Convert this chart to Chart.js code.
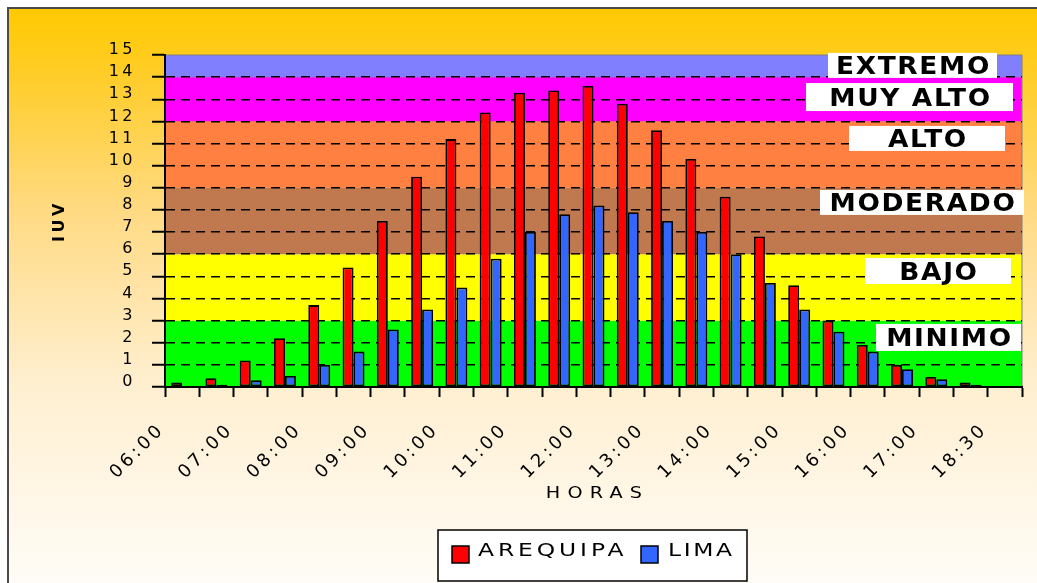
<!DOCTYPE html>
<html>
<head>
<meta charset="utf-8">
<script src="https://cdn.jsdelivr.net/npm/chart.js@4.4.0/dist/chart.umd.min.js"></script>
<style>
  html, body { margin: 0; padding: 0; background: #fff; }
  canvas { display: block; }
</style>
</head>
<body>
<canvas id="graficoIUV" width="1037" height="583"></canvas>
<script>
// datos (IUV cada media hora)
const horas = ['06:00','06:30','07:00','07:30','08:00','08:30','09:00','09:30','10:00','10:30',
  '11:00','11:30','12:00','12:30','13:00','13:30','14:00','14:30','15:00','15:30',
  '16:00','16:30','17:00','17:30','18:30'];
const arequipa = [0.2,0.4,1.2,2.2,3.7,5.4,7.5,9.5,11.2,12.4,13.3,13.4,13.6,12.8,11.6,10.3,8.6,6.8,4.6,3.0,1.9,1.0,0.45,0.2,0];
const lima = [0,0.1,0.3,0.5,1.0,1.6,2.6,3.5,4.5,5.8,7.0,7.8,8.2,7.9,7.5,7.0,6.0,4.7,3.5,2.5,1.6,0.8,0.35,0.1,0];

// niveles de riesgo (franjas de fondo)
const nivelesLimites = [0, 3, 6, 9, 12, 14, 15];
const nivelesColores = ['#00FF00', '#FFFF00', '#C0784F', '#FF8040', '#FF00FF', '#8080FF'];
const nivelesNombres = ['MINIMO', 'BAJO', 'MODERADO', 'ALTO', 'MUY ALTO', 'EXTREMO'];
const nivelesPosY = [2.24, 5.24, 8.34, 11.23, 13.1, 14.53];

// cajas de texto de los niveles (px respecto al borde derecho del area)
const cajaDerecha = [1, 11, -2, 17, 9, 25];
const cajaAncho = [145, 146, 204, 156, 207, 169];
const cajaAlto = [27, 26, 25, 25, 28, 25];

// texto ensanchado horizontalmente, como en la imagen original
function textoAncho(ctx, txt, x, y, sx, esp) {
  ctx.save();
  ctx.letterSpacing = esp + 'px';
  ctx.translate(x, y);
  ctx.scale(sx, 1);
  ctx.fillText(txt, 0, 0);
  ctx.restore();
}

const fondo = {
  id: 'fondo',
  beforeDraw(chart) {
    const ctx = chart.ctx;
    const area = chart.chartArea;
    const y = chart.scales.y;
    ctx.save();
    ctx.fillStyle = '#fff';
    ctx.fillRect(0, 0, chart.width, chart.height);
    const g = ctx.createLinearGradient(0, 8, 0, chart.height);
    g.addColorStop(0, '#FFCA00');
    g.addColorStop(0.1, '#FFCC22');
    g.addColorStop(0.35, '#FFDA82');
    g.addColorStop(0.65, '#FFEFD0');
    g.addColorStop(1, '#FFFCF7');
    ctx.fillStyle = g;
    ctx.fillRect(8, 8, chart.width, chart.height);
    ctx.strokeStyle = '#4a4a4a';
    ctx.lineWidth = 2;
    ctx.beginPath();
    ctx.moveTo(8, chart.height);
    ctx.lineTo(8, 8);
    ctx.lineTo(chart.width, 8);
    ctx.stroke();

    for (let i = 0; i < nivelesColores.length; i++) {
      const y1 = y.getPixelForValue(nivelesLimites[i + 1]);
      const y0 = y.getPixelForValue(nivelesLimites[i]);
      ctx.fillStyle = nivelesColores[i];
      ctx.fillRect(area.left, y1, area.right - area.left, y0 - y1);
    }
    ctx.strokeStyle = '#808080';
    ctx.lineWidth = 1;
    ctx.strokeRect(area.left, area.top, area.right - area.left, area.bottom - area.top);
    ctx.restore();
    // espaciado para las etiquetas de los ejes
    ctx.letterSpacing = '3.5px';
  },
  afterDraw(chart) {
    const ctx = chart.ctx;
    const area = chart.chartArea;
    const y = chart.scales.y;
    ctx.save();
    ctx.letterSpacing = '0px';

    // etiquetas de niveles
    ctx.font = 'bold 24px "DejaVu Sans"';
    ctx.textAlign = 'center';
    ctx.textBaseline = 'alphabetic';
    for (let i = 0; i < nivelesNombres.length; i++) {
      const cy = y.getPixelForValue(nivelesPosY[i]);
      const der = area.right - cajaDerecha[i];
      const izq = der - cajaAncho[i];
      ctx.fillStyle = '#fff';
      ctx.fillRect(izq, cy - cajaAlto[i] / 2, cajaAncho[i], cajaAlto[i]);
      ctx.fillStyle = '#000';
      textoAncho(ctx, nivelesNombres[i], (izq + der) / 2 + 1, cy + 9, 1.1, 1.5);
    }

    // titulo eje x
    ctx.font = '16px "DejaVu Sans"';
    textoAncho(ctx, 'HORAS', (area.left + area.right) / 2 + 4, 498, 1.2, 6);

    // leyenda
    const lx = 438, ly = 530, lw = 309, lh = 51;
    ctx.fillStyle = '#fff';
    ctx.fillRect(lx, ly, lw, lh);
    ctx.strokeStyle = '#000';
    ctx.lineWidth = 1.5;
    ctx.strokeRect(lx, ly, lw, lh);
    const items = [
      { x: 452, texto: 478, esp: 3 },
      { x: 641, texto: 668, esp: 2 }
    ];
    ctx.font = '18px "DejaVu Sans"';
    ctx.textAlign = 'left';
    chart.data.datasets.forEach((ds, i) => {
      const it = items[i];
      ctx.fillStyle = ds.backgroundColor;
      ctx.fillRect(it.x, 546, 17, 17);
      ctx.strokeStyle = '#000';
      ctx.lineWidth = 1.5;
      ctx.strokeRect(it.x, 546, 17, 17);
      ctx.fillStyle = '#000';
      textoAncho(ctx, ds.label, it.texto, 556, 1.3, it.esp);
    });
    ctx.restore();
    ctx.letterSpacing = '0px';
  }
};

new Chart(document.getElementById('graficoIUV'), {
  type: 'bar',
  data: {
    labels: horas,
    datasets: [
      {
        label: 'AREQUIPA',
        data: arequipa,
        backgroundColor: '#FF0000',
        borderColor: '#000',
        borderWidth: 1.8,
        borderSkipped: false,
        categoryPercentage: 0.64,
        barPercentage: 1
      },
      {
        label: 'LIMA',
        data: lima,
        backgroundColor: '#3366FF',
        borderColor: '#000',
        borderWidth: 1.8,
        borderSkipped: false,
        categoryPercentage: 0.64,
        barPercentage: 1
      }
    ]
  },
  options: {
    responsive: false,
    animation: false,
    devicePixelRatio: 1,
    layout: { padding: { left: 0, right: 15, top: 55, bottom: 81 } },
    plugins: {
      legend: { display: false },
      tooltip: { enabled: false }
    },
    scales: {
      x: {
        afterFit(scale) {
          scale.height = 115;
          scale.paddingLeft = 0;
          scale.paddingRight = 0;
        },
        grid: {
          offset: true,
          drawOnChartArea: false,
          tickLength: 10,
          tickColor: '#000',
          tickWidth: 2
        },
        border: { color: '#000', width: 2 },
        ticks: {
          autoSkip: false,
          minRotation: 45,
          maxRotation: 45,
          padding: 22,
          labelOffset: -20,
          color: '#000',
          font: { family: 'DejaVu Sans', size: 18 },
          callback: (v, i) => (i % 2 === 0 ? horas[i] : '')
        }
      },
      y: {
        min: 0,
        max: 15,
        afterFit(scale) { scale.width = 165; },
        title: {
          display: true,
          text: 'IUV',
          color: '#000',
          font: { family: 'DejaVu Sans', size: 16, weight: 'bold' },
          padding: { top: 50, bottom: 0 }
        },
        grid: {
          color: (c) => (c.tick && (c.tick.value === 0 || c.tick.value === 15) ? 'rgba(0,0,0,0)' : '#000'),
          lineWidth: 1.5,
          tickLength: 13,
          tickColor: '#000',
          tickWidth: 2
        },
        border: { color: '#000', width: 2, dash: [9, 6] },
        ticks: {
          autoSkip: false,
          stepSize: 1,
          padding: 16,
          labelOffset: -5,
          color: '#000',
          font: { family: 'DejaVu Sans', size: 16 }
        }
      }
    }
  },
  plugins: [fondo]
});
</script>
</body>
</html>
